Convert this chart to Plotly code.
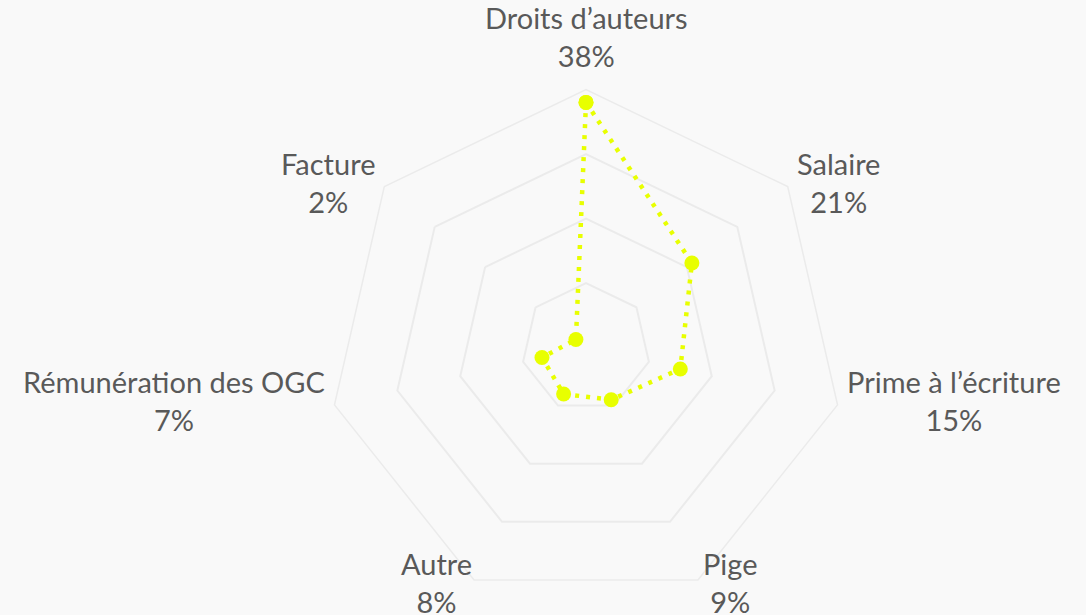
import math
import plotly.graph_objects as go

categories = ["Droits d’auteurs", "Salaire", "Prime à l’écriture", "Pige", "Autre",
              "Rémunération des OGC", "Facture"]
values = [38, 21, 15, 9, 8, 7, 2]
value_labels = ["38%", "21%", "15%", "9%", "8%", "7%", "2%"]
radial_ticks = [10, 20, 30, 40]

W, H = 1086, 615
CX, CY, R = 586, 347.5, 258  # polar centre / outer radius in pixels
YELLOW = "#E8FF00"
TEXT = "#595959"
GRID = "#EBEBEB"
BG = "#F9F9F9"

theta = categories + [categories[0]]
r = values + [values[0]]

fig = go.Figure()
fig.add_trace(go.Scatterpolar(
    r=r, theta=theta, mode="lines+markers",
    line=dict(color=YELLOW, width=4.5, dash="4px,7px"),
    marker=dict(color=YELLOW, size=15),
    hoverinfo="skip", showlegend=False,
))

# category labels placed beside each outer vertex (centred two-line text)
n = len(categories)
annotations = []
for i, (cat, lab) in enumerate(zip(categories, value_labels)):
    ang = math.radians(90 - i * 360 / n)
    c, s = math.cos(ang), math.sin(ang)
    vx, vy = CX + R * c, CY - R * s
    if abs(c) < 0.1:
        xanchor, yanchor, xs, ys = "center", "bottom", 0, 14
    elif s < -0.5:
        xanchor = "left" if c > 0 else "right"
        yanchor, xs, ys = "middle", (3 if c > 0 else 0), -3
    else:
        xanchor = "left" if c > 0 else "right"
        yanchor, xs, ys = "middle", (7 if c > 0 else -7), 4
    annotations.append(dict(
        text=f"{cat}<br>{lab}", x=vx / W, y=1 - vy / H, xref="paper", yref="paper",
        xanchor=xanchor, yanchor=yanchor, xshift=xs, yshift=ys, showarrow=False,
        align="center", font=dict(size=29, color=TEXT),
    ))

fig.update_layout(
    width=W, height=H,
    paper_bgcolor=BG,
    plot_bgcolor=BG,
    margin=dict(l=0, r=0, t=0, b=0),
    font=dict(family="Lato, 'Open Sans', sans-serif", size=24, color=TEXT),
    annotations=annotations,
    polar=dict(
        bgcolor=BG,
        gridshape="linear",
        domain=dict(x=[(CX - R) / W, (CX + R) / W],
                    y=[1 - (CY + R) / H, 1 - (CY - R) / H]),
        radialaxis=dict(range=[0, 40], tickvals=radial_ticks, showticklabels=False,
                        showline=False, ticks="", gridcolor=GRID, gridwidth=1.5),
        angularaxis=dict(direction="clockwise", rotation=90, categoryorder="array",
                         categoryarray=categories, showticklabels=False,
                         showgrid=False, showline=True, linecolor=GRID, linewidth=1.5,
                         ticks=""),
    ),
)

fig.write_html("out.html", config={"displayModeBar": False},
               post_script="document.body.style.margin='0';")
